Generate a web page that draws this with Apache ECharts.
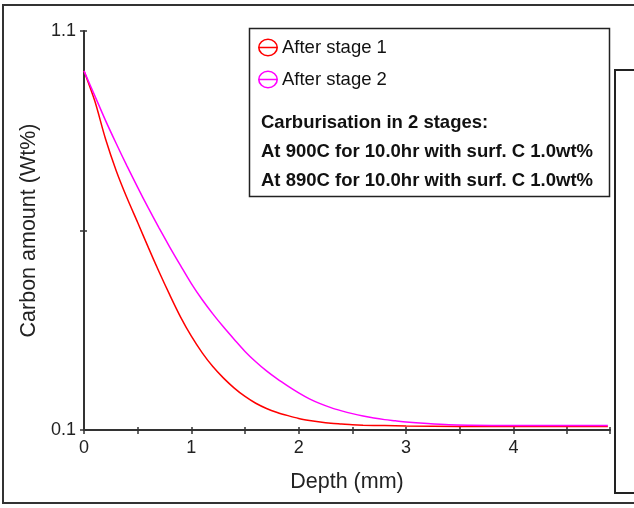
<!DOCTYPE html>
<html>
<head>
<meta charset="utf-8">
<script src="https://cdn.jsdelivr.net/npm/echarts@6/dist/echarts.min.js"></script>
<style>
html,body{margin:0;padding:0;background:#fff;}
#chart{width:634px;height:508px;}
</style>
</head>
<body>
<div id="chart"></div>
<script>
// Depth (mm)
const depthStage1 = [0,0.1,0.2,0.3,0.4,0.5,0.6,0.7,0.8,0.9,1.0,1.1,1.2,1.3,1.4,1.5,1.6,1.7,1.8,1.9,2.0,2.1,2.2,2.3,2.4,2.5,2.6,2.8,3.0,3.5,4.0,4.5,4.88];
const carbonStage1 = [1.0,0.925,0.83,0.75,0.682,0.62,0.557,0.496,0.438,0.383,0.335,0.294,0.259,0.230,0.205,0.184,0.167,0.154,0.144,0.136,0.129,0.124,0.12,0.117,0.115,0.113,0.112,0.111,0.110,0.109,0.109,0.109,0.109];
const depthStage2 = [0,0.1,0.2,0.3,0.4,0.5,0.6,0.7,0.8,0.9,1.0,1.1,1.2,1.3,1.4,1.5,1.6,1.7,1.8,1.9,2.0,2.1,2.2,2.3,2.4,2.5,2.6,2.7,2.8,2.9,3.0,3.2,3.4,3.6,4.0,4.5,4.88];
const carbonStage2 = [1.0,0.938,0.876,0.818,0.762,0.708,0.656,0.606,0.558,0.512,0.467,0.427,0.391,0.358,0.327,0.297,0.271,0.248,0.228,0.210,0.193,0.178,0.166,0.156,0.148,0.141,0.135,0.130,0.126,0.123,0.120,0.116,0.113,0.112,0.111,0.111,0.111];
const seriesNames = ['After stage 1','After stage 2'];
const seriesColors = ['#ff0000','#ff00ff'];
const noteLines = ['Carburisation in 2 stages:','At 900C for 10.0hr with surf. C 1.0wt%','At 890C for 10.0hr with surf. C 1.0wt%'];
const xTickLabels = ['0','1','2','3','4'];
const yTickLabels = ['0.1','1.1'];

const chart = echarts.init(document.getElementById('chart'), null, {renderer:'canvas'});
const font = 'Liberation Sans, Arial, sans-serif';
const iconPath = 'path://M0,9 A10,9 0 1,1 20,9 A10,9 0 1,1 0,9 Z M1.6,9 A8.4,7.4 0 1,0 18.4,9 A8.4,7.4 0 1,0 1.6,9 Z M0.8,8.2 L19.2,8.2 L19.2,9.8 L0.8,9.8 Z';

const axisCommonX = {min:0, max:4.9, interval:0.5};
const axisCommonY = {min:0.1, max:1.1, interval:0.5};

const option = {
  animation:false,
  backgroundColor:'#fff',
  grid:{left:84, right:24, top:31, bottom:78, containLabel:false},
  legend:{
    orient:'vertical', left:258, top:38, padding:0, z:10,
    itemWidth:20, itemHeight:18, itemGap:13,
    data: seriesNames.map(n => ({name:n, icon:iconPath})),
    textStyle:{fontSize:18.5, fontFamily:font, color:'#111', padding:[0,0,0,-1]}
  },
  xAxis:[{
    type:'value', ...axisCommonX,
    name:'Depth (mm)', nameLocation:'middle', nameGap:41,
    nameTextStyle:{fontSize:21.5, fontFamily:font, color:'#222'},
    axisLine:{show:true, onZero:false, lineStyle:{color:'#333', width:2}},
    axisTick:{show:true, length:4, lineStyle:{color:'#333', width:1.5}},
    axisLabel:{margin:9, fontSize:18, fontFamily:font, color:'#222',
      formatter: v => xTickLabels.indexOf(String(v)) >= 0 ? String(v) : ''},
    splitLine:{show:false}
  },{
    type:'value', ...axisCommonX, position:'bottom',
    axisLine:{show:false}, axisLabel:{show:false}, splitLine:{show:false},
    axisTick:{show:true, inside:true, length:3, lineStyle:{color:'#333', width:1.5}}
  }],
  yAxis:[{
    type:'value', ...axisCommonY,
    name:'Carbon amount (Wt%)', nameLocation:'middle', nameGap:37,
    nameTextStyle:{fontSize:21.5, fontFamily:font, color:'#222'},
    axisLine:{show:true, onZero:false, lineStyle:{color:'#333', width:2}},
    axisTick:{show:true, length:4, lineStyle:{color:'#333', width:1.5}},
    axisLabel:{margin:8, fontSize:18, fontFamily:font, color:'#222',
      formatter: v => { const s = (Math.round(v*10)/10).toFixed(1); return yTickLabels.indexOf(s) >= 0 ? s : ''; }},
    splitLine:{show:false}
  },{
    type:'value', ...axisCommonY, position:'left',
    axisLine:{show:false}, axisLabel:{show:false}, splitLine:{show:false},
    axisTick:{show:true, inside:true, length:3, lineStyle:{color:'#333', width:1.5}}
  }],
  series:[
    {name:seriesNames[0], type:'line', xAxisIndex:0, yAxisIndex:0, showSymbol:false, symbol:'none', smooth:0.3,
      color:seriesColors[0], lineStyle:{color:seriesColors[0], width:1.5},
      data: depthStage1.map((d,i)=>[d, carbonStage1[i]]), z:2},
    {name:seriesNames[1], type:'line', xAxisIndex:0, yAxisIndex:0, showSymbol:false, symbol:'none', smooth:0.3,
      color:seriesColors[1], lineStyle:{color:seriesColors[1], width:1.5},
      data: depthStage2.map((d,i)=>[d, carbonStage2[i]]), z:3}
  ],
  graphic:[
    {type:'rect', shape:{x:3, y:5, width:640, height:498}, style:{fill:'none', stroke:'#333', lineWidth:2}, z:-1, silent:true},
    {type:'rect', shape:{x:615, y:70, width:40, height:423}, style:{fill:'none', stroke:'#222', lineWidth:2}, silent:true},
    {type:'rect', shape:{x:249.5, y:28.5, width:360, height:168}, style:{fill:'#fff', stroke:'#222', lineWidth:1.5}, z:5, silent:true},
    ...noteLines.map((t,i)=>({type:'text', left:261, top:113 + i*29, z:6, silent:true,
      style:{text:t, font:'bold 18.5px ' + font, fill:'#111'}}))
  ]
};
chart.setOption(option);
</script>
</body>
</html>
